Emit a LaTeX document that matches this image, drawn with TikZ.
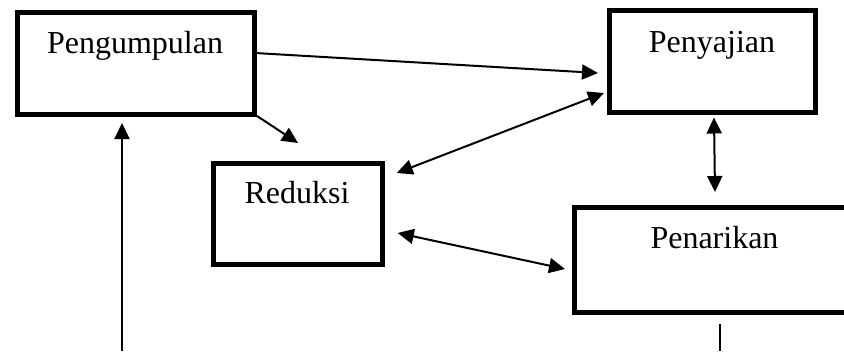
\documentclass[tikz,border=0pt]{standalone}
\usepackage{fontspec}
\setmainfont{Liberation Serif}
\usetikzlibrary{arrows.meta,calc}
\begin{document}
\begin{tikzpicture}[x=1pt,y=-1pt,
  box/.style={draw=black,line width=5pt,minimum width=#1,inner sep=0pt,rectangle},
  lbl/.style={anchor=base,inner sep=0pt,font=\fontsize{32}{38}\selectfont},
  conn/.style={line width=2pt,-{Triangle[length=16pt,width=15pt]}},
  dconn/.style={line width=2pt,{Triangle[length=16pt,width=15pt]}-{Triangle[length=16pt,width=15pt]}},
  plain/.style={line width=2pt}]
\useasboundingbox (0,0) rectangle (844,351);
\clip (0,0) rectangle (844,351);
% boxes
\node[box=237pt,minimum height=102pt] (peng) at (136,63.5) {};
\node[box=206pt,minimum height=102pt] (peny) at (712,61) {};
\node[box=168.5pt,minimum height=100.5pt] (red) at (298,214) {};
\node[box=286pt,minimum height=105pt] (pen) at (717,260) {};
% labels
\node[lbl] (tpeng) at (135,53) {Pengumpulan};
\node[lbl] (tpeny) at (712,52) {Penyajian};
\node[lbl] (tred) at (297,203) {Reduksi};
\node[lbl] (tpen) at (714.5,248) {Penarikan};
% connector end points
\coordinate (a1s) at ($(peng.east)+(-2,-10.5)$);
\coordinate (a1e) at ($(peny.west)+(-8.5,12)$);
\coordinate (a2s) at ($(peng.south east)+(0,-1)$);
\coordinate (a2e) at (298,143);
\coordinate (a3s) at ($(peny.west)+(-2.5,32)$);
\coordinate (a3e) at ($(red.east)+(12,-41)$);
\coordinate (a4s) at ($(peny.south)+(2,3)$);
\coordinate (a4e) at ($(pen.north)+(-2,-13)$);
\coordinate (a5s) at ($(red.east)+(13,19)$);
\coordinate (a5e) at ($(pen.west)+(-6.5,9)$);
\coordinate (a6s) at (122,351);
\coordinate (a6e) at ($(peng.south -| a6s)+(0,6)$);
\coordinate (a7s) at ($(pen.south)+(3,9)$);
\coordinate (a7e) at (a7s |- a6s);
% connectors
\draw[conn] (a1s) -- (a1e);
\draw[conn] (a2s) -- (a2e);
\draw[dconn] (a3s) -- (a3e);
\draw[dconn] (a4s) -- (a4e);
\draw[dconn] (a5s) -- (a5e);
\draw[conn] (a6s) -- (a6e);
\draw[plain] (a7s) -- (a7e);
\end{tikzpicture}
\end{document}
